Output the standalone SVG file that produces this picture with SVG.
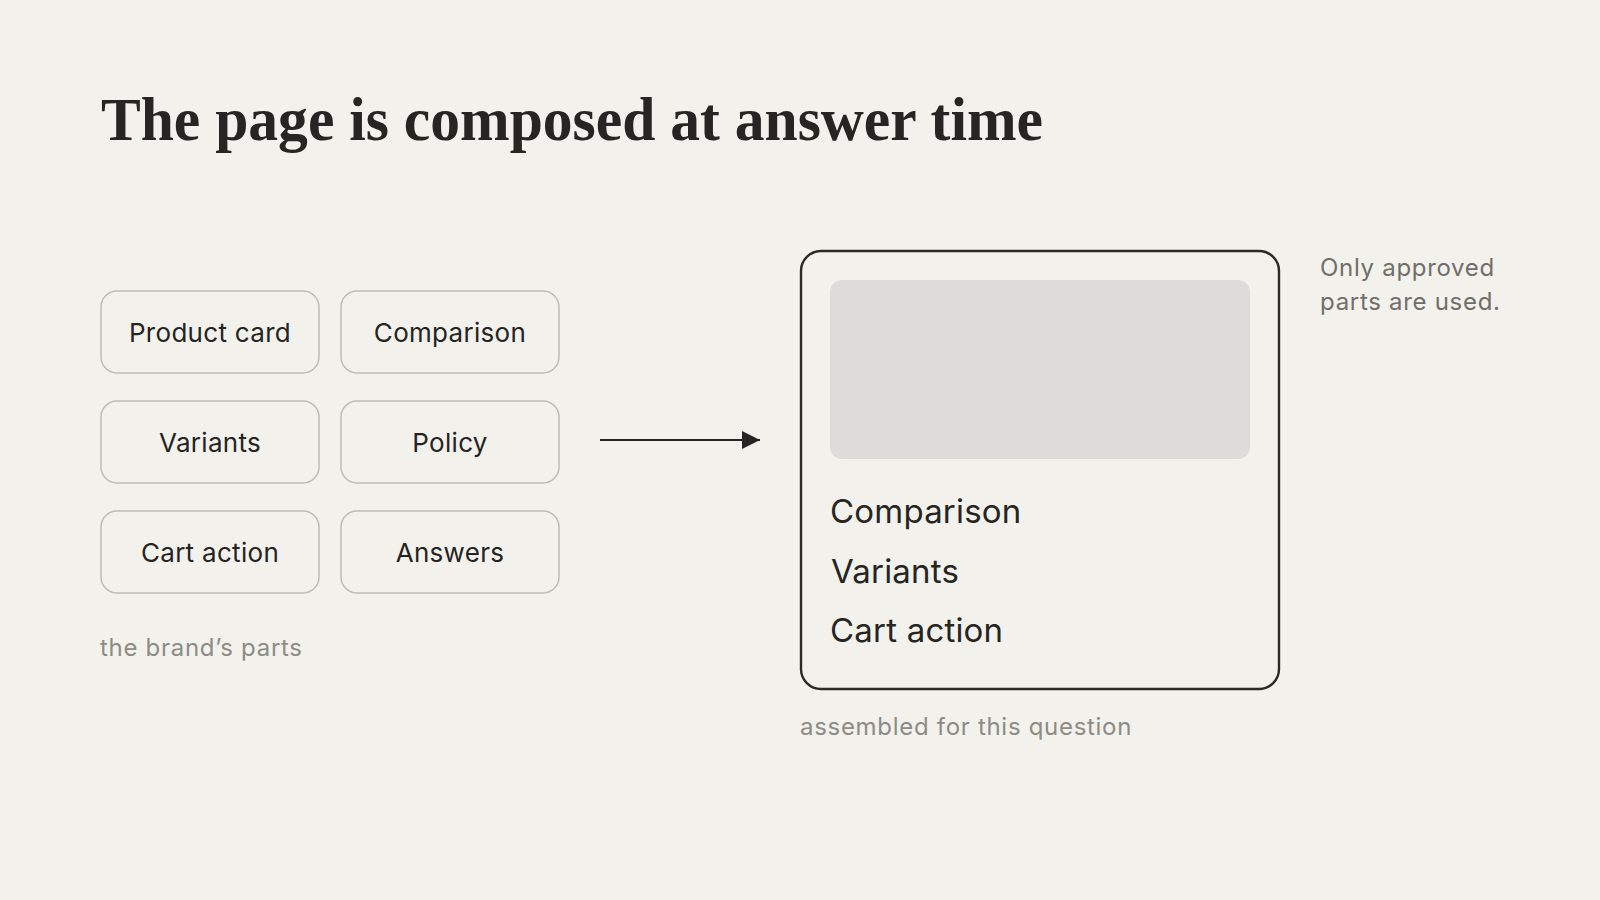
<svg xmlns="http://www.w3.org/2000/svg" width="1600" height="900" viewBox="0 0 1600 900">
<defs>
<style>
.bg{fill:#f2f1ec}
.title{font-family:"Liberation Serif","DejaVu Serif",serif;font-weight:700;font-size:62px;fill:#262522}
.part rect{fill:#f2f1ec;stroke:#bdbbb5;stroke-width:1.5}
.part text{font-family:Inter,"Noto Sans",sans-serif;font-size:26px;letter-spacing:0.3px;fill:#252422;text-anchor:middle}
.muted{font-family:Inter,"Noto Sans",sans-serif;font-size:24px;letter-spacing:0.7px;fill:#8d8b86}
.note{font-family:Inter,"Noto Sans",sans-serif;font-size:24px;letter-spacing:0.7px;fill:#706e6a}
.item{font-family:Inter,"Noto Sans",sans-serif;font-size:33px;letter-spacing:0.2px;fill:#262522}
</style>
<marker id="arrow" viewBox="0 0 10 10" refX="10" refY="5" markerWidth="18" markerHeight="18" markerUnits="userSpaceOnUse" orient="auto">
<path d="M0,0 L10,5 L0,10 Z" fill="#262522"/>
</marker>
</defs>
<rect class="bg" x="0" y="0" width="1600" height="900"/>
<text class="title" x="101" y="140" textLength="942" lengthAdjust="spacingAndGlyphs">The page is composed at answer time</text>

<g id="part-product-card" class="part"><rect x="101" y="291" width="218" height="82" rx="16"/><text x="210" y="342">Product card</text></g>
<g id="part-comparison" class="part"><rect x="341" y="291" width="218" height="82" rx="16"/><text x="450" y="342">Comparison</text></g>
<g id="part-variants" class="part"><rect x="101" y="401" width="218" height="82" rx="16"/><text x="210" y="452">Variants</text></g>
<g id="part-policy" class="part"><rect x="341" y="401" width="218" height="82" rx="16"/><text x="450" y="452">Policy</text></g>
<g id="part-cart-action" class="part"><rect x="101" y="511" width="218" height="82" rx="16"/><text x="210" y="562">Cart action</text></g>
<g id="part-answers" class="part"><rect x="341" y="511" width="218" height="82" rx="16"/><text x="450" y="562">Answers</text></g>
<text class="muted" x="100" y="656">the brand’s parts</text>

<g id="connectors">
<line x1="600" y1="440" x2="760" y2="440" stroke="#262522" stroke-width="2" marker-end="url(#arrow)"/>
</g>

<g id="assembled-page">
<rect x="801" y="251" width="478" height="438" rx="20" fill="#f2f1ec" stroke="#2b2a27" stroke-width="2.4"/>
<rect x="830" y="280" width="420" height="179" rx="12" fill="#dedcd8"/>
<text class="item" x="830" y="523">Comparison</text>
<text class="item" x="831" y="583">Variants</text>
<text class="item" x="830" y="642">Cart action</text>
</g>
<text class="muted" x="800" y="735">assembled for this question</text>

<g id="note">
<text class="note" x="1320" y="276">Only approved</text>
<text class="note" x="1320" y="310">parts are used.</text>
</g>
</svg>
